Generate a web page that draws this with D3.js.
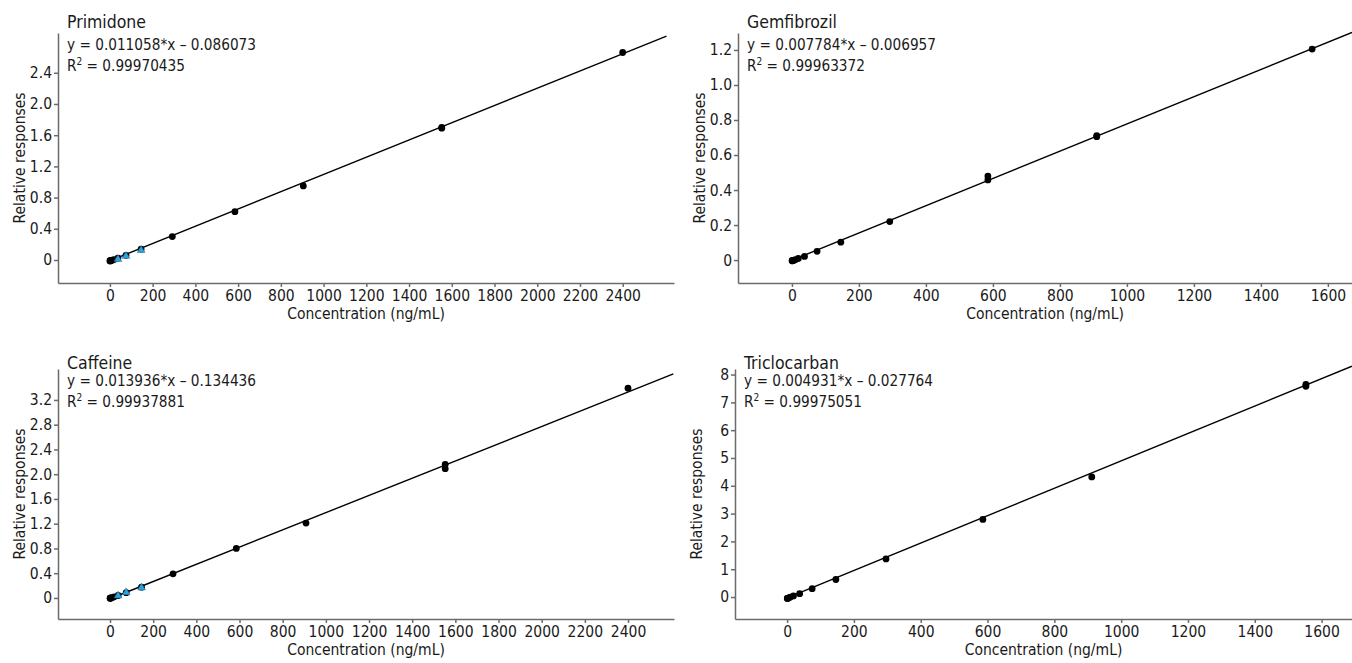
<!DOCTYPE html>
<html>
<head>
<meta charset="utf-8">
<script src="https://cdn.jsdelivr.net/npm/d3@7"></script>
<style>
body{margin:0;background:#fff;}
svg{font-family:"DejaVu Sans Condensed","DejaVu Sans",sans-serif;font-stretch:condensed;}
.axis path,.axis line{stroke:#6b6b6b;stroke-width:1.5px;}
.axis text{font-size:15.5px;fill:#1a1a1a;}
.title{font-size:17.5px;fill:#1a1a1a;}
.eq{font-size:15.2px;fill:#1a1a1a;}
.lab{font-size:15.5px;fill:#1a1a1a;}
.fit{fill:none;stroke:#000;stroke-width:1.4px;}
.dot{fill:#000;}
.qc{fill:#2ba3dc;stroke:#1d6f98;stroke-width:0.5px;}
</style>
</head>
<body>
<div id="chart"></div>
<script>
var w = 1352;
var h = 663;

// chart data
var analytes = ["Primidone", "Gemfibrozil", "Caffeine", "Triclocarban"];
var equations = ["y = 0.011058*x \u2013 0.086073", "y = 0.007784*x \u2013 0.006957",
                 "y = 0.013936*x \u2013 0.134436", "y = 0.004931*x \u2013 0.027764"];
var r2Values = ["0.99970435", "0.99963372", "0.99937881", "0.99975051"];
var xLabel = "Concentration (ng/mL)";
var yLabel = "Relative responses";

var xTicksLong = [0, 200, 400, 600, 800, 1000, 1200, 1400, 1600, 1800, 2000, 2200, 2400];
var xTicksShort = [0, 200, 400, 600, 800, 1000, 1200, 1400, 1600];
var xTicks = [xTicksLong, xTicksShort, xTicksLong, xTicksShort];
var yTicks = [[0, 0.4, 0.8, 1.2, 1.6, 2.0, 2.4],
              [0, 0.2, 0.4, 0.6, 0.8, 1.0, 1.2],
              [0, 0.4, 0.8, 1.2, 1.6, 2.0, 2.4, 2.8, 3.2],
              [0, 1, 2, 3, 4, 5, 6, 7, 8]];
var xDomains = [[-243, 2640], [-161, 1672], [-241, 2613], [-156, 1691]];
var yDomains = [[-0.295, 2.91], [-0.131, 1.297], [-0.34, 3.70], [-0.79, 8.2]];

// calibration points [conc, response]
var primidonePts = [[0.5,-0.012],[1,-0.01],[2.5,-0.01],[5,-0.006],[10,-0.003],[19,0.005],[37.5,0.025],
  [75,0.06],[146,0.14],[292,0.30],[585,0.62],[905,0.95],[1553,1.70],[1553,1.69],[2400,2.66]];
var gemfibrozilPts = [[0.5,-0.004],[1,-0.004],[2.5,-0.003],[5,-0.002],[10,0.002],[19,0.009],[37.5,0.021],
  [75,0.05],[146,0.102],[292,0.22],[585,0.458],[585,0.48],[910,0.705],[910,0.71],[1553,1.205]];
var caffeinePts = [[0.5,-0.004],[1,-0.003],[2.5,-0.002],[5,0.0],[10,0.006],[19,0.018],[37.5,0.04],
  [75,0.085],[146,0.175],[292,0.39],[585,0.80],[908,1.21],[1553,2.16],[1553,2.09],[2400,3.39]];
var triclocarbanPts = [[0.5,-0.05],[1,-0.045],[2.5,-0.04],[5,-0.03],[10,0.0],[19,0.04],[37.5,0.12],
  [75,0.30],[146,0.63],[296,1.37],[586,2.79],[912,4.32],[1553,7.65],[1553,7.58]];
var points = [primidonePts, gemfibrozilPts, caffeinePts, triclocarbanPts];

// QC samples (blue triangles)
var primidoneQC = [[37.5,0.01],[75,0.05],[146,0.125]];
var caffeineQC = [[37.5,0.037],[75,0.09],[146,0.166]];
var qcPoints = [primidoneQC, [], caffeineQC, []];

// fitted line ends
var fitLines = [[[0,-0.01],[2605,2.87]], [[0,-0.001],[1672,1.30]],
                [[0,-0.013],[2610,3.62]], [[0,-0.03],[1691,8.3]]];

// panel boxes
var panels = [
  {left:58, right:674, top:33, bottom:283, titleDy:-5},
  {left:738, right:1352, top:33, bottom:283, titleDy:-5},
  {left:58, right:674, top:369, bottom:619, titleDy:0},
  {left:735, right:1352, top:369, bottom:619, titleDy:0}
];

var svgChart = d3.select("#chart").append("svg")
  .attr("width", w)
  .attr("height", h);

function drawPanel(i){
  var p = panels[i];
  var xScale = d3.scaleLinear().domain(xDomains[i]).range([p.left, p.right]);
  var yScale = d3.scaleLinear().domain(yDomains[i]).range([p.bottom, p.top]);
  var g = svgChart.append("g").attr("class", "panel");
  var intTicks = yTicks[i].every(function(d){ return Number.isInteger(d); });

  g.append("g")
    .attr("class", "axis")
    .attr("transform", "translate(0," + p.bottom + ")")
    .call(d3.axisBottom(xScale).tickValues(xTicks[i]).tickSize(4).tickPadding(3).tickSizeOuter(0)
      .tickFormat(d3.format("d")));

  g.append("g")
    .attr("class", "axis")
    .attr("transform", "translate(" + p.left + ",0)")
    .call(d3.axisLeft(yScale).tickValues(yTicks[i]).tickSize(4).tickPadding(2).tickSizeOuter(0)
      .tickFormat(function(d){ return (d === 0 || intTicks) ? d : d3.format(".1f")(d); }));

  g.selectAll(".axis").attr("font-family", null).attr("font-size", null);

  // fitted line
  var line = d3.line()
    .x(function(d){ return xScale(d[0]); })
    .y(function(d){ return yScale(d[1]); });
  g.append("path").datum(fitLines[i]).attr("class", "fit").attr("d", line);

  g.selectAll(".dot").data(points[i]).enter().append("circle")
    .attr("class", "dot")
    .attr("r", 3.4)
    .attr("cx", function(d){ return xScale(d[0]); })
    .attr("cy", function(d){ return yScale(d[1]); });

  var tri = d3.symbol(d3.symbolTriangle).size(26);
  g.selectAll(".qc").data(qcPoints[i]).enter().append("path")
    .attr("class", "qc")
    .attr("d", tri)
    .attr("transform", function(d){ return "translate(" + xScale(d[0]) + "," + yScale(d[1]) + ")"; });

  // texts
  g.append("text").attr("class", "title")
    .attr("x", p.left + 9).attr("y", p.top + p.titleDy)
    .text(analytes[i]);
  g.append("text").attr("class", "eq")
    .attr("x", p.left + 9).attr("y", p.top + 17)
    .text(equations[i]);
  var r2 = g.append("text").attr("class", "eq")
    .attr("x", p.left + 9).attr("y", p.top + 38);
  r2.append("tspan").text("R");
  r2.append("tspan").attr("font-size", "10px").attr("dy", -6).text("2");
  r2.append("tspan").attr("dy", 6).text(" = " + r2Values[i]);

  g.append("text").attr("class", "lab")
    .attr("x", (p.left + p.right) / 2).attr("y", p.bottom + 36)
    .style("text-anchor", "middle")
    .text(xLabel);
  g.append("text").attr("class", "lab")
    .attr("transform", "rotate(-90)")
    .attr("x", -(p.top + p.bottom) / 2).attr("y", p.left - 33)
    .style("text-anchor", "middle")
    .text(yLabel);
}

for(var i = 0; i < analytes.length; i++){
  drawPanel(i);
}
</script>
</body>
</html>
